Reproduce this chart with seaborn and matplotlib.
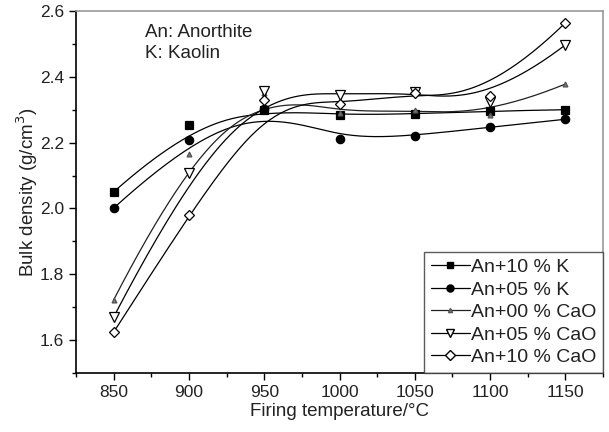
import numpy as np
import matplotlib

matplotlib.use("Agg")
import matplotlib.pyplot as plt
import seaborn as sns
from matplotlib.lines import Line2D
from matplotlib.ticker import MultipleLocator

# firing temperatures (deg C)
temps = [850, 900, 950, 1000, 1050, 1100, 1150]

# bulk density (g/cm3)
an10_k = [2.05, 2.253, 2.30, 2.284, 2.287, 2.296, 2.30]
an05_k = [2.001, 2.208, 2.302, 2.211, 2.220, 2.247, 2.271]
an00_cao = [1.722, 2.165, 2.35, 2.29, 2.30, 2.285, 2.378]
an05_cao = [1.670, 2.108, 2.356, 2.345, 2.354, 2.323, 2.497]
an10_cao = [1.624, 1.980, 2.33, 2.317, 2.35, 2.342, 2.564]

labels = ["An+10 % K", "An+05 % K", "An+00 % CaO", "An+05 % CaO", "An+10 % CaO"]
series = [an10_k, an05_k, an00_cao, an05_cao, an10_cao]

# marker style per series: (marker, size, face, edge, line colour)
styles = [
    ("s", 5.5, "black", "black", "black"),
    ("o", 6, "black", "black", "black"),
    ("^", 3.5, "#777777", "#555555", "#222222"),
    ("v", 7, "white", "black", "black"),
    ("D", 5.5, "white", "black", "black"),
]


def bspline(xs, ys, n=300):
    """Clamped cubic B-spline using the points as control points (like Origin's B-Spline line)."""
    pts = np.column_stack([xs, ys]).astype(float)
    k = 3
    m = len(pts)
    inner = np.arange(1, m - k)
    knots = np.concatenate([np.zeros(k + 1), inner, np.full(k + 1, m - k)]).astype(float)
    t = np.linspace(0, m - k, n)
    t[-1] -= 1e-9

    def basis(i, p, t):
        if p == 0:
            return ((knots[i] <= t) & (t < knots[i + 1])).astype(float)
        out = np.zeros_like(t)
        d1 = knots[i + p] - knots[i]
        d2 = knots[i + p + 1] - knots[i + 1]
        if d1 > 0:
            out += (t - knots[i]) / d1 * basis(i, p - 1, t)
        if d2 > 0:
            out += (knots[i + p + 1] - t) / d2 * basis(i + 1, p - 1, t)
        return out

    curve = sum(basis(i, k, t)[:, None] * pts[i] for i in range(m))
    return curve[:, 0], curve[:, 1]


sns.set_theme(style="ticks")
plt.rcParams["font.family"] = ["Liberation Sans", "DejaVu Sans"]

fig = plt.figure(figsize=(6.09, 4.32), dpi=100)
ax = fig.add_axes([0.1248, 0.1366, 0.8654, 0.838])

for vals, (mk, ms, fc, ec, lc) in zip(series, styles):
    cx, cy = bspline(temps, vals)
    sns.lineplot(x=cx, y=cy, sort=False, color=lc, linewidth=0.9, ax=ax, legend=False)
    ax.plot(temps, vals, linestyle="none", marker=mk, markersize=ms,
            markerfacecolor=fc, markeredgecolor=ec, markeredgewidth=0.9, zorder=3)

ax.set_xlim(825, 1175)
ax.set_ylim(1.5, 2.6)
ax.xaxis.set_major_locator(MultipleLocator(50))
ax.xaxis.set_minor_locator(MultipleLocator(25))
ax.yaxis.set_major_locator(MultipleLocator(0.2))
ax.yaxis.set_minor_locator(MultipleLocator(0.1))
ax.yaxis.set_major_formatter(matplotlib.ticker.FormatStrFormatter("%.1f"))
ax.tick_params(which="major", length=5, width=1, color="black", labelsize=12.5, labelcolor="#222222")
ax.tick_params(which="minor", length=3, width=1, color="black")
for side in ["left", "bottom"]:
    ax.spines[side].set_color("black")
    ax.spines[side].set_linewidth(1.2)
for side in ["top", "right"]:
    ax.spines[side].set_visible(True)
    ax.spines[side].set_color("#999999")
    ax.spines[side].set_linewidth(1.2)

ax.set_xlabel("Firing temperature/°C", fontsize=13.5, color="#222222", labelpad=2)
ax.set_ylabel("Bulk density (g/cm$^3$)", fontsize=13.5, color="#222222", labelpad=0)

ax.text(0.13, 0.965, "An: Anorthite\nK: Kaolin", transform=ax.transAxes, fontsize=13.5,
        va="top", ha="left", linespacing=1.3, color="#222222")

handles = [
    Line2D([], [], color=lc, linewidth=0.9, marker=mk, markersize=ms * 0.85,
           markerfacecolor=fc, markeredgecolor=ec)
    for (mk, ms, fc, ec, lc) in styles
]
leg = ax.legend(handles, labels, loc="lower right", fontsize=14, frameon=True, fancybox=False,
                handlelength=2.0, handletextpad=0.05, labelspacing=0.25, borderpad=0.35,
                borderaxespad=0.0, labelcolor="#222222")
leg.get_frame().set_edgecolor("#333333")
leg.get_frame().set_linewidth(1.0)

fig.savefig("out.png", dpi=100)
